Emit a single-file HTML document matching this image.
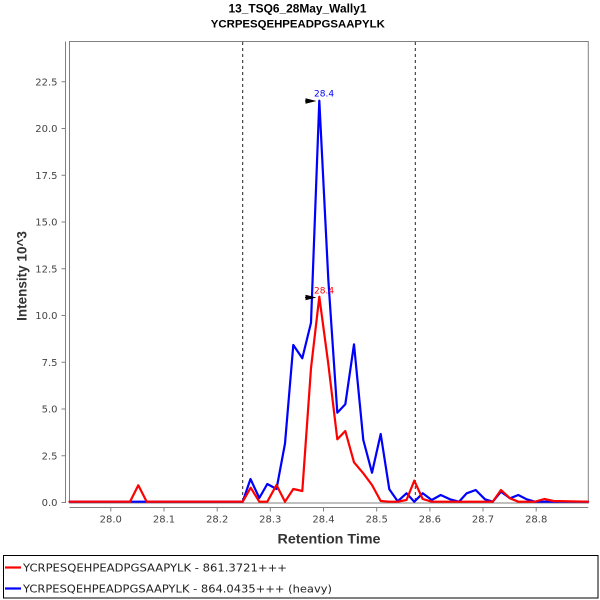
<!DOCTYPE html>
<html>
<head>
<meta charset="utf-8">
<style>
  html,body{margin:0;padding:0;background:#fff;}
  svg{display:block;}
</style>
</head>
<body>
<svg width="600" height="600" viewBox="0 0 600 600" xmlns="http://www.w3.org/2000/svg">
  <rect x="0" y="0" width="600" height="600" fill="#fff"/>

  <!-- Title -->
  <text x="297.5" y="12.5" text-anchor="middle" font-family="'Liberation Sans', Arial, sans-serif" font-weight="bold" font-size="11.6" textLength="138" lengthAdjust="spacingAndGlyphs" fill="#000">13_TSQ6_28May_Wally1</text>
  <text x="297.8" y="27.5" text-anchor="middle" font-family="'Liberation Sans', Arial, sans-serif" font-weight="bold" font-size="11.4" textLength="174" lengthAdjust="spacingAndGlyphs" fill="#000">YCRPESQEHPEADPGSAAPYLK</text>

  <!-- Plot frame -->
  <rect x="69.5" y="41.5" width="518.8" height="461.5" fill="none" stroke="#808080" stroke-width="1"/>

  <!-- Y axis line -->
  <line x1="65.5" y1="41.5" x2="65.5" y2="503" stroke="#808080" stroke-width="1"/>
  <!-- X axis line -->
  <line x1="69.5" y1="507.5" x2="588.3" y2="507.5" stroke="#808080" stroke-width="1"/>

  <!-- Y ticks -->
  <g stroke="#808080" stroke-width="1">
    <line x1="61.5" y1="502.5" x2="65.5" y2="502.5"/>
    <line x1="61.5" y1="455.75" x2="65.5" y2="455.75"/>
    <line x1="61.5" y1="409" x2="65.5" y2="409"/>
    <line x1="61.5" y1="362.25" x2="65.5" y2="362.25"/>
    <line x1="61.5" y1="315.5" x2="65.5" y2="315.5"/>
    <line x1="61.5" y1="268.75" x2="65.5" y2="268.75"/>
    <line x1="61.5" y1="222" x2="65.5" y2="222"/>
    <line x1="61.5" y1="175.25" x2="65.5" y2="175.25"/>
    <line x1="61.5" y1="128.5" x2="65.5" y2="128.5"/>
    <line x1="61.5" y1="81.75" x2="65.5" y2="81.75"/>
  </g>
  <g font-family="'DejaVu Sans', sans-serif" font-size="10" fill="#444" text-anchor="end">
    <text x="57.5" y="506.2">0.0</text>
    <text x="57.5" y="459.4">2.5</text>
    <text x="57.5" y="412.7">5.0</text>
    <text x="57.5" y="365.9">7.5</text>
    <text x="57.5" y="319.2">10.0</text>
    <text x="57.5" y="272.4">12.5</text>
    <text x="57.5" y="225.7">15.0</text>
    <text x="57.5" y="178.9">17.5</text>
    <text x="57.5" y="132.2">20.0</text>
    <text x="57.5" y="85.4">22.5</text>
  </g>

  <!-- X ticks -->
  <g stroke="#808080" stroke-width="1">
    <line x1="110.8" y1="507.5" x2="110.8" y2="511.5"/>
    <line x1="164" y1="507.5" x2="164" y2="511.5"/>
    <line x1="217.2" y1="507.5" x2="217.2" y2="511.5"/>
    <line x1="270.3" y1="507.5" x2="270.3" y2="511.5"/>
    <line x1="323.5" y1="507.5" x2="323.5" y2="511.5"/>
    <line x1="376.7" y1="507.5" x2="376.7" y2="511.5"/>
    <line x1="429.9" y1="507.5" x2="429.9" y2="511.5"/>
    <line x1="483" y1="507.5" x2="483" y2="511.5"/>
    <line x1="536.2" y1="507.5" x2="536.2" y2="511.5"/>
  </g>
  <g font-family="'DejaVu Sans', sans-serif" font-size="10" fill="#444" text-anchor="middle">
    <text x="110.8" y="522.3">28.0</text>
    <text x="164" y="522.3">28.1</text>
    <text x="217.2" y="522.3">28.2</text>
    <text x="270.3" y="522.3">28.3</text>
    <text x="323.5" y="522.3">28.4</text>
    <text x="376.7" y="522.3">28.5</text>
    <text x="429.9" y="522.3">28.6</text>
    <text x="483" y="522.3">28.7</text>
    <text x="536.2" y="522.3">28.8</text>
  </g>

  <!-- Axis labels -->
  <text x="329" y="543.3" text-anchor="middle" font-family="'Liberation Sans', Arial, sans-serif" font-weight="bold" font-size="14" textLength="103" lengthAdjust="spacingAndGlyphs" fill="#333">Retention Time</text>
  <text transform="translate(26.5,276) rotate(-90)" x="0" y="0" text-anchor="middle" font-family="'Liberation Sans', Arial, sans-serif" font-weight="bold" font-size="13.5" fill="#333">Intensity 10^3</text>

  <!-- Dashed boundaries -->
  <line x1="242.7" y1="42" x2="242.7" y2="502.5" stroke="#222" stroke-width="1" stroke-dasharray="3,3"/>
  <line x1="415.3" y1="42" x2="415.3" y2="502.5" stroke="#222" stroke-width="1" stroke-dasharray="3,3"/>

  <!-- Blue series -->
  <polyline fill="none" stroke="#0000ff" stroke-width="2.2" stroke-linejoin="round" stroke-linecap="round"
    points="69.5,501.7 242.7,501.7 250.5,479 259.3,498 267.3,484 276.5,489 285,443.5 293.3,345 302.3,358.3 311,322.7 319.3,100.7 328.3,279.3 337.3,412.7 345.3,404.3 354,344.3 363.3,440 372,472.7 380.7,434 389.3,489.3 397.7,501.3 406.5,493.3 414.3,501.7 422.7,493.3 431.7,500 440.7,495 450,499.3 459,501.7 466.7,493.3 475.7,490 485,499.3 492.7,501.7 501,491.7 510,498.3 518.3,495 526.7,499.3 535,501.7 588,501.7"/>

  <!-- Red series -->
  <polyline fill="none" stroke="#ff0000" stroke-width="2.2" stroke-linejoin="round" stroke-linecap="round"
    points="69.5,501.7 130,501.7 138.3,485.3 146.7,501.7 242.7,501.7 250.7,487.7 259.3,501.7 267.3,501.7 276.5,485 285,501.7 293.3,489 302.3,491 311,368.3 319.3,296.7 328.3,364 337.3,439.3 345.3,431 354,462.3 363.3,473.3 372,485 380.7,501 389.3,501.7 397.7,501.7 406.5,500 414.3,480.7 422.7,499 431.7,501.7 492.7,501.7 501,490 510,498.3 518.3,501.7 535,501.7 544.3,499 553.3,501 588,501.7"/>

  <!-- Peak annotations -->
  <line x1="305" y1="101" x2="314" y2="101" stroke="#000" stroke-width="1"/>
  <polygon points="305.5,98.3 316.5,101 305.5,103.7" fill="#000"/>
  <text x="314" y="96.7" font-family="'DejaVu Sans', sans-serif" font-size="9" fill="#0000ff">28.4</text>

  <line x1="305" y1="297.5" x2="314" y2="297.5" stroke="#000" stroke-width="1"/>
  <polygon points="305.5,294.8 316.5,297.5 305.5,300.2" fill="#000"/>
  <text x="314" y="293.3" font-family="'DejaVu Sans', sans-serif" font-size="9" fill="#ff0000">28.4</text>

  <!-- Legend -->
  <rect x="3.5" y="555.5" width="594.5" height="42.5" fill="#fff" stroke="#000" stroke-width="1"/>
  <line x1="5" y1="567.5" x2="21" y2="567.5" stroke="#ff0000" stroke-width="2.2"/>
  <text x="23" y="571.5" font-family="'DejaVu Sans', sans-serif" font-size="11" textLength="264" lengthAdjust="spacingAndGlyphs" fill="#222">YCRPESQEHPEADPGSAAPYLK - 861.3721+++</text>
  <line x1="5" y1="588.5" x2="21" y2="588.5" stroke="#0000ff" stroke-width="2.2"/>
  <text x="23" y="592.5" font-family="'DejaVu Sans', sans-serif" font-size="11" textLength="309" lengthAdjust="spacingAndGlyphs" fill="#222">YCRPESQEHPEADPGSAAPYLK - 864.0435+++ (heavy)</text>
</svg>
</body>
</html>
